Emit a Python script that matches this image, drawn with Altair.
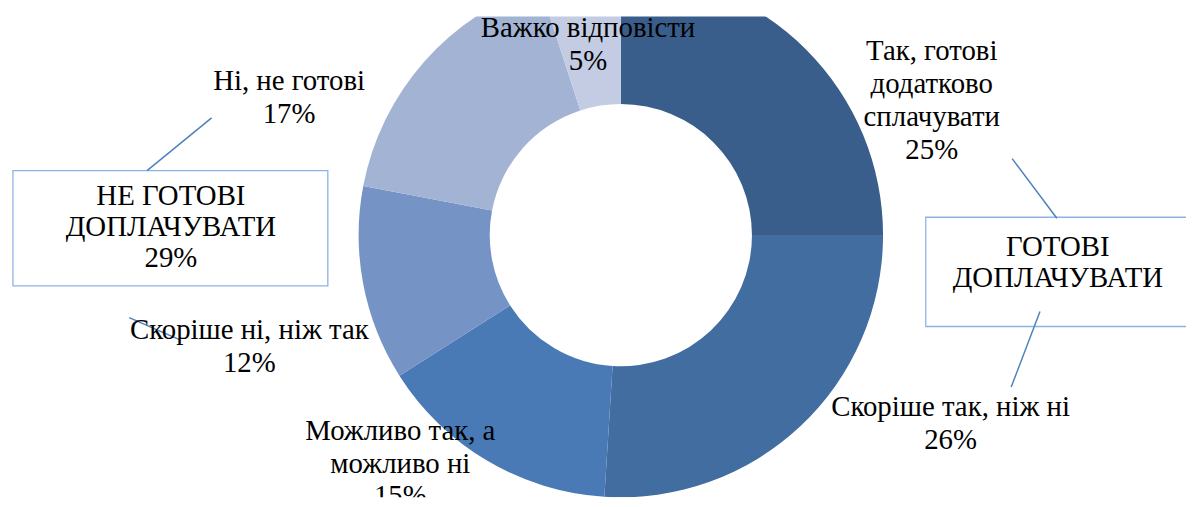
import altair as alt
import pandas as pd

# ---- data ----
categories = [
    "Так, готові додатково сплачувати",
    "Скоріше так, ніж ні",
    "Можливо так, а можливо ні",
    "Скоріше ні, ніж так",
    "Ні, не готові",
    "Важко відповісти",
]
values = [25, 26, 15, 12, 17, 5]
colors = ["#3A5E8B", "#426DA0", "#4A7AB5", "#7594C5", "#A2B3D4", "#C3CCE2"]

label_lines = [
    ["Так, готові", "додатково", "сплачувати"],
    ["Скоріше так, ніж ні"],
    ["Можливо так, а", "можливо  ні"],
    ["Скоріше ні, ніж так"],
    ["Ні, не готові"],
    ["Важко відповісти"],
]

group_lines = [
    ["НЕ ГОТОВІ", "ДОПЛАЧУВАТИ", f"{values[3] + values[4]}%"],
    ["ГОТОВІ", "ДОПЛАЧУВАТИ"],
]

# ---- layout (page pixels) ----
OFF_X, OFF_Y = 8, 15
W, H = 1186, 484
CX, CY, R_OUT, R_IN = 625, 235, 264, 132
LINE_H = 33
label_x = [938, 957, 403, 251, 291, 592]
label_y0 = [50, 408, 432, 331, 80, 27]
group_x = [172, 1065]
group_y0 = [196, 247]
group_line_h = 31
boxes = [(13, 170, 330, 286), (932, 217, 1215, 327)]
connectors = [(148, 170, 213, 117), (1019, 158, 1064, 218), (1018, 388, 1047, 312), (130, 318, 180, 340)]
FONT = "Liberation Serif, Times New Roman, DejaVu Serif, serif"

# ---- tables ----
df_pie = pd.DataFrame({"category": categories, "value": values, "idx": list(range(len(values)))})

rows = []
for lines, v, x, y0 in zip(label_lines, values, label_x, label_y0):
    for i, t in enumerate(lines + [f"{v}%"]):
        rows.append({"tx": x - OFF_X, "ty": y0 + i * LINE_H - OFF_Y, "text": t})
for lines, x, y0 in zip(group_lines, group_x, group_y0):
    for i, t in enumerate(lines):
        rows.append({"tx": x - OFF_X, "ty": y0 + i * group_line_h - OFF_Y, "text": t})
df_text = pd.DataFrame(rows)

df_box = pd.DataFrame([
    {"x": a - OFF_X, "y": b - OFF_Y, "x2": c - OFF_X, "y2": d - OFF_Y} for a, b, c, d in boxes
])
df_conn = pd.DataFrame([
    {"x": a - OFF_X, "y": b - OFF_Y, "x2": c - OFF_X, "y2": d - OFF_Y} for a, b, c, d in connectors
])

pie = alt.Chart(df_pie).mark_arc(outerRadius=R_OUT, innerRadius=R_IN, clip=True).encode(
    theta=alt.Theta("value:Q", stack=True),
    color=alt.Color("category:N", scale=alt.Scale(domain=categories, range=colors), legend=None),
    order=alt.Order("idx:Q"),
    x=alt.value(CX - OFF_X),
    y=alt.value(CY - OFF_Y),
)

box = alt.Chart(df_box).mark_rect(filled=False, stroke="#8DB3E2", strokeWidth=1.3, clip=True).encode(
    x=alt.X("x:Q", scale=None, axis=None),
    y=alt.Y("y:Q", scale=None, axis=None),
    x2="x2:Q",
    y2="y2:Q",
)

conn = alt.Chart(df_conn).mark_rule(color="#4F81BD", strokeWidth=1.5).encode(
    x=alt.X("x:Q", scale=None, axis=None),
    y=alt.Y("y:Q", scale=None, axis=None),
    x2="x2:Q",
    y2="y2:Q",
)

text = alt.Chart(df_text).mark_text(
    font=FONT, fontSize=29, color="#000000", align="center", baseline="middle", clip=True
).encode(
    x=alt.X("tx:Q", scale=None, axis=None),
    y=alt.Y("ty:Q", scale=None, axis=None),
    text="text:N",
)

chart = alt.layer(pie, box, conn, text).properties(
    width=W,
    height=H,
    autosize=alt.AutoSizeParams(type="none"),
    padding={"left": 0, "top": OFF_Y - 8, "right": 0, "bottom": 0},
    background="white",
).configure_view(stroke=None)

chart.save("out.html", embed_options={"renderer": "svg", "actions": False})
